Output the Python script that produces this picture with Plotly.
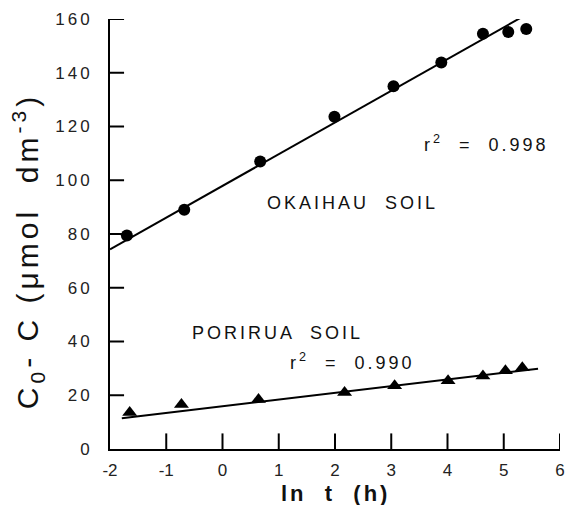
import numpy as np
import plotly.graph_objects as go

# ln t (h) and C0 - C (umol dm^-3) for the two soils
okaihau_lnt = [-1.70, -0.68, 0.67, 1.99, 3.04, 3.89, 4.63, 5.08, 5.40]
okaihau_val = [79.4, 89.0, 107.0, 123.6, 135.0, 143.8, 154.5, 155.2, 156.3]

porirua_lnt = [-1.65, -0.73, 0.64, 2.17, 3.06, 4.01, 4.63, 5.03, 5.33]
porirua_val = [13.6, 16.6, 18.4, 21.0, 23.5, 25.4, 27.2, 29.1, 30.2]

# Regression lines: intercept, slope, and the ln t span they are drawn over
okaihau_fit = (97.9, 11.8, -2.0, 5.29)
porirua_fit = (15.9, 2.49, -1.79, 5.61)

x_ticks = [-2, -1, 0, 1, 2, 3, 4, 5, 6]
y_ticks = [0, 20, 40, 60, 80, 100, 120, 140, 160]
x_range = [-2, 6]
y_range = [0, 160]

# Inward tick mark lengths, in axis units
x_tick_len = 5.8    # along y
y_tick_len = 0.25   # along x

FONT = "Liberation Sans, Arial, sans-serif"


def spaced(text, px):
    return f'<span style="letter-spacing:{px}px">{text}</span>'


def fit_line(fit):
    a, b, x0, x1 = fit
    xs = np.array([x0, x1])
    return xs, a + b * xs


fig = go.Figure()

# Tick marks pointing into the plot
for xv in x_ticks[1:]:
    fig.add_trace(go.Scatter(x=[xv, xv], y=[y_range[0], y_range[0] + x_tick_len],
                             mode="lines", line=dict(color="black", width=2),
                             showlegend=False, hoverinfo="skip"))
for yv in y_ticks[1:]:
    fig.add_trace(go.Scatter(x=[x_range[0], x_range[0] + y_tick_len], y=[yv, yv],
                             mode="lines", line=dict(color="black", width=2),
                             showlegend=False, hoverinfo="skip"))

for fit in (okaihau_fit, porirua_fit):
    xs, ys = fit_line(fit)
    fig.add_trace(go.Scatter(x=xs, y=ys, mode="lines",
                             line=dict(color="black", width=2),
                             showlegend=False, hoverinfo="skip"))

fig.add_trace(go.Scatter(x=okaihau_lnt, y=okaihau_val, mode="markers",
                         marker=dict(symbol="circle", size=12, color="black"),
                         name="Okaihau soil", showlegend=False))
fig.add_trace(go.Scatter(x=porirua_lnt, y=porirua_val, mode="markers",
                         marker=dict(symbol="triangle-up", size=13, color="black"),
                         name="Porirua soil", showlegend=False))

label_font = dict(family=FONT, size=18, color="#111")
fig.add_annotation(x=2.31, y=91.6, text=spaced("OKAIHAU  SOIL", 3),
                   showarrow=False, font=label_font)
fig.add_annotation(x=4.70, y=113.6, text=spaced("r<sup>2</sup>  =  0.998", 3),
                   showarrow=False, font=label_font)
fig.add_annotation(x=0.97, y=43.0, text=spaced("PORIRUA  SOIL", 3),
                   showarrow=False, font=label_font)
fig.add_annotation(x=2.31, y=32.5, text=spaced("r<sup>2</sup>  =  0.990", 3),
                   showarrow=False, font=label_font)

# Axis titles
fig.add_annotation(xref="paper", yref="paper", x=0, y=0.46, xshift=-82,
                   xanchor="center", yanchor="middle",
                   text=spaced("C<sub>0</sub>- C (\u03bcmol  dm<sup>-3</sup>)", 4),
                   textangle=-90, showarrow=False,
                   font=dict(family=FONT, size=30, color="#111"))
fig.add_annotation(xref="paper", yref="paper", x=0.5, y=0, yshift=-44,
                   xanchor="center", yanchor="middle",
                   text=spaced("<b>ln  t  (h)</b>", 3), showarrow=False,
                   font=dict(family=FONT, size=22, color="#111"))

axis_common = dict(showline=True, linecolor="black", linewidth=2,
                   ticks="", showgrid=False, zeroline=False,
                   tickfont=dict(family=FONT, size=17, color="#222"))

fig.update_xaxes(range=x_range, tickvals=x_ticks,
                 ticktext=[str(v) for v in x_ticks],
                 ticklabelstandoff=5, **axis_common)
fig.update_yaxes(range=y_range, tickvals=y_ticks,
                 ticktext=[spaced(str(v), 3) for v in y_ticks],
                 ticklabelstandoff=12, **axis_common)

fig.update_layout(width=575, height=505,
                  margin=dict(l=110, r=10, t=14, b=56),
                  paper_bgcolor="white", plot_bgcolor="white")

fig.write_html("out.html")
